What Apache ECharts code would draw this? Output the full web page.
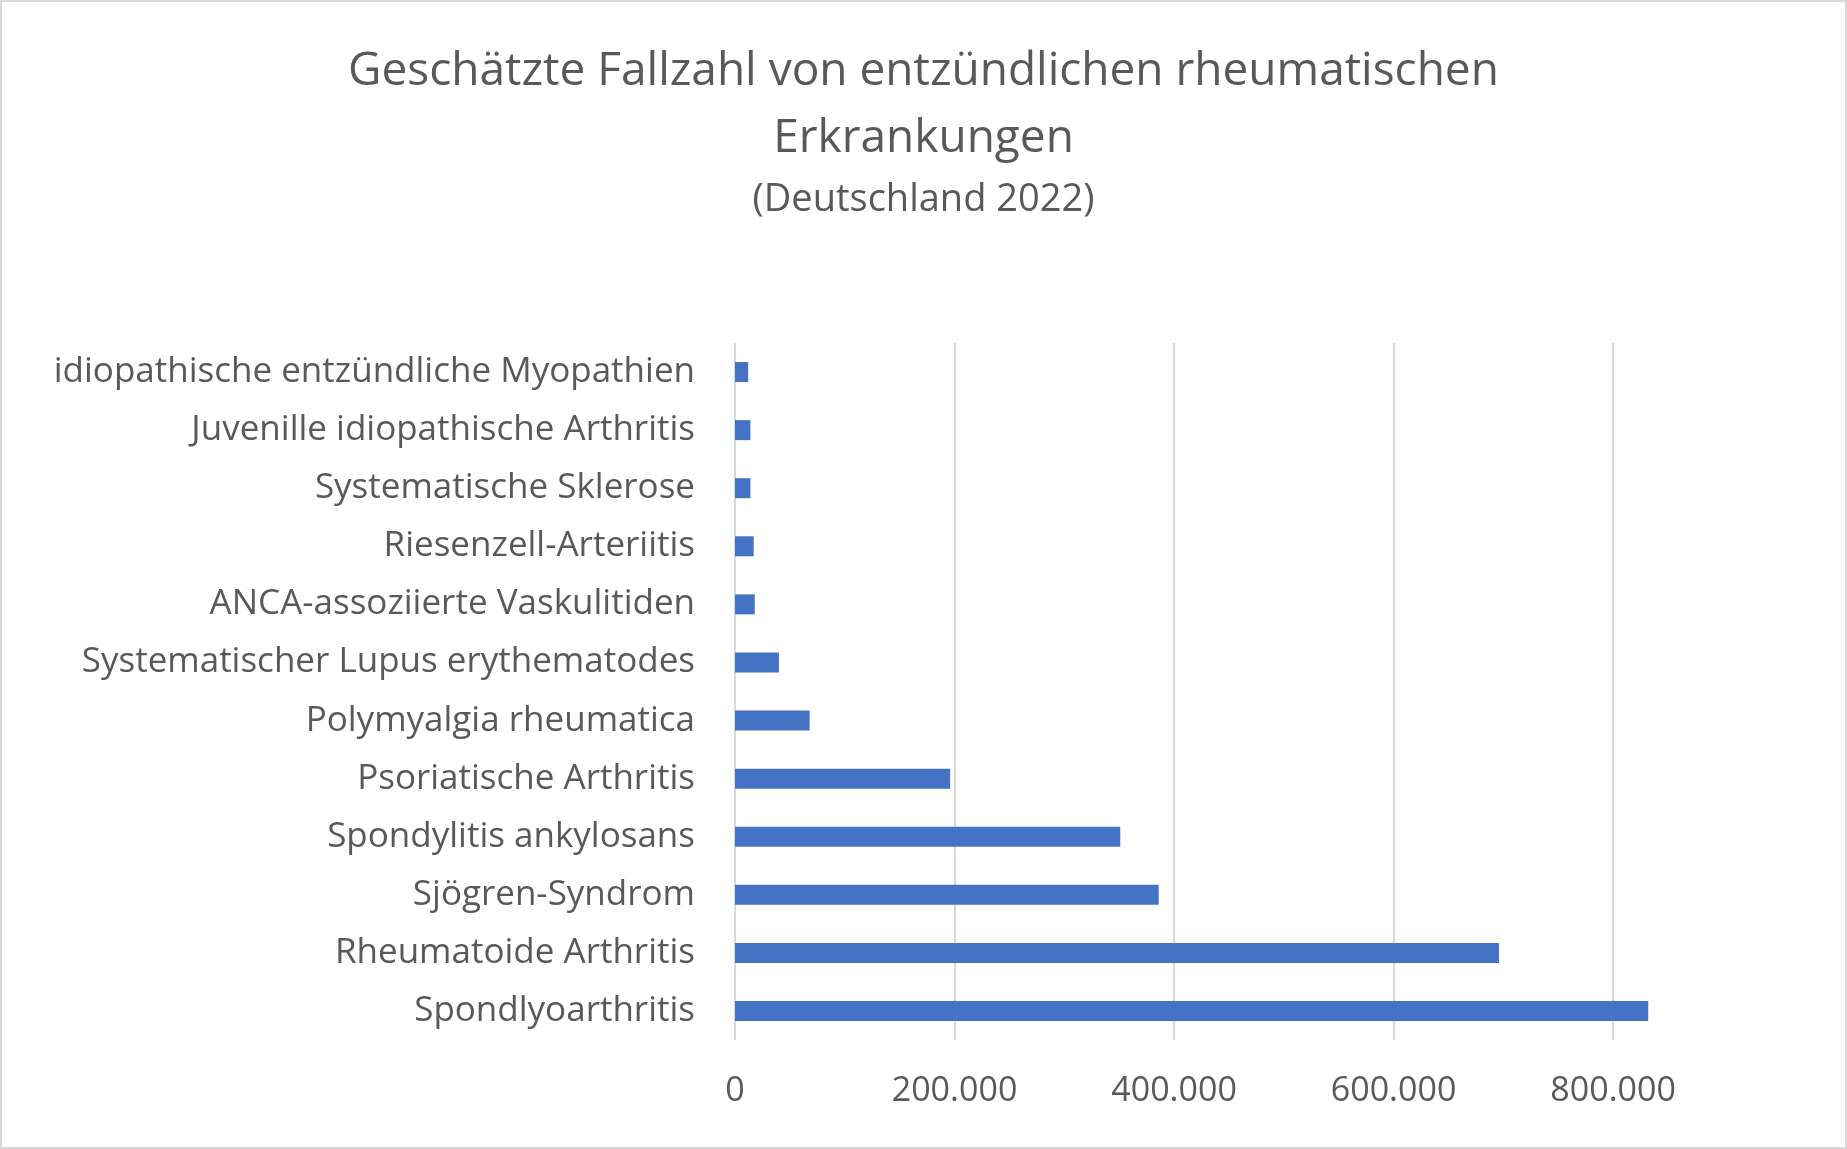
<!DOCTYPE html>
<html><head><meta charset="utf-8">
<script src="https://cdn.jsdelivr.net/npm/echarts@6/dist/echarts.min.js"></script>
<style>html,body{margin:0;padding:0;background:#fff}#c{width:1847px;height:1149px;box-sizing:border-box;border:2px solid #d9d9d9}</style>
</head><body><div id="c"></div>
<script>
const categories = ["Spondlyoarthritis","Rheumatoide Arthritis","Sjögren-Syndrom","Spondylitis ankylosans","Psoriatische Arthritis","Polymyalgia rheumatica","Systematischer Lupus erythematodes","ANCA-assoziierte Vaskulitiden","Riesenzell-Arteriitis","Systematische Sklerose","Juvenille idiopathische Arthritis","idiopathische entzündliche Myopathien"];
const values = [832000,696000,386000,351000,196000,68000,40000,18000,17000,14000,14000,12000];
const gridTicks = [0,200000,400000,600000,800000];
const chart = echarts.init(document.getElementById('c'));
const font = '"Open Sans", sans-serif';
const tStyle = {fontFamily:font,fontSize:46,fontWeight:'normal',color:'#595959'};
chart.setOption({
  animation:false,
  title:[
    {text:'Geschätzte Fallzahl von entzündlichen rheumatischen',left:'center',top:42,textStyle:tStyle},
    {text:'Erkrankungen',left:'center',top:109,textStyle:tStyle},
    {text:'(Deutschland 2022)',left:'center',top:174,textStyle:{fontFamily:font,fontSize:38,fontWeight:'normal',color:'#595959'}}
  ],
  grid:{left:733,right:177,top:341,bottom:107},
  xAxis:{type:'value',min:0,max:850000,interval:200000,
    splitLine:{show:false},axisLine:{show:false},axisTick:{show:false},
    axisLabel:{fontFamily:font,fontSize:34,color:'#595959',margin:34,
      formatter:v=>gridTicks.includes(v)?(v===0?'0':v.toLocaleString('de-DE')):''}},
  yAxis:{type:'category',data:categories,axisTick:{show:false},
    axisLine:{show:false},
    axisLabel:{fontFamily:font,fontSize:35,color:'#595959',margin:40}},
  series:[{type:'bar',data:values,barWidth:20,itemStyle:{color:'#4472c4'},
    markLine:{silent:true,symbol:'none',label:{show:false},z:0,
      lineStyle:{color:'#d9d9d9',type:'solid',width:2},
      data:gridTicks.map(v=>({xAxis:v}))}}]
});
</script></body></html>
